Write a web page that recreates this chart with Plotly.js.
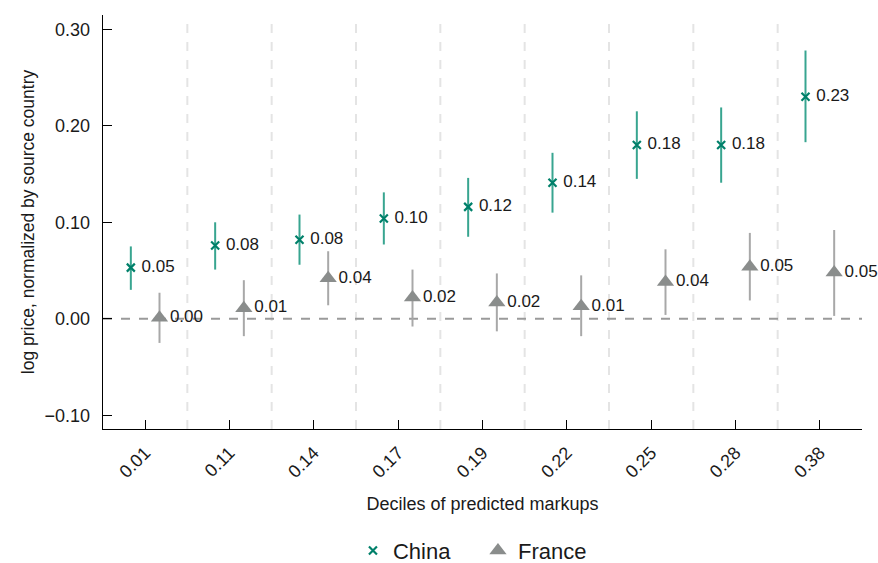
<!DOCTYPE html>
<html>
<head>
<meta charset="utf-8">
<script src="https://cdn.plot.ly/plotly-3.0.1.min.js"></script>
<style>html,body{margin:0;padding:0;background:#fff;}#chart{width:878px;height:563px;}</style>
</head>
<body>
<div id="chart"></div>
<script>
// Deciles of predicted markups (x categories)
const deciles = ["0.01", "0.11", "0.14", "0.17", "0.19", "0.22", "0.25", "0.28", "0.38"];

// China: point estimates and 95% CI bounds
const chinaVal = [0.053, 0.076, 0.082, 0.104, 0.116, 0.141, 0.180, 0.180, 0.230];
const chinaHi  = [0.075, 0.100, 0.108, 0.131, 0.146, 0.172, 0.215, 0.219, 0.278];
const chinaLo  = [0.030, 0.051, 0.056, 0.077, 0.085, 0.110, 0.145, 0.141, 0.183];

// France: point estimates and 95% CI bounds
const franceVal = [0.001, 0.011, 0.042, 0.022, 0.017, 0.013, 0.038, 0.054, 0.048];
const franceHi  = [0.027, 0.040, 0.070, 0.051, 0.047, 0.045, 0.072, 0.089, 0.092];
const franceLo  = [-0.025, -0.018, 0.014, -0.008, -0.013, -0.018, 0.004, 0.019, 0.003];

const yTicks = [-0.1, 0.0, 0.1, 0.2, 0.3];

const FONT = "Liberation Sans, Arial, Helvetica, sans-serif";
const OFF = 0.17;
const idx = deciles.map((d, i) => i);

const china = {
  type: "scatter", mode: "markers+text", name: "China",
  x: idx.map(i => i - OFF), y: chinaVal,
  text: chinaVal.map(v => "\u00a0" + v.toFixed(2)), textposition: "middle right",
  textfont: {family: FONT, size: 17, color: "#1a1a1a"},
  marker: {symbol: "x-thin", size: 8, color: "#00806a", line: {width: 2.2, color: "#00806a"}},
  error_y: {type: "data", symmetric: false,
    array: chinaHi.map((h, i) => h - chinaVal[i]),
    arrayminus: chinaLo.map((l, i) => chinaVal[i] - l),
    color: "#38a590", thickness: 2, width: 0},
  cliponaxis: false
};
const france = {
  type: "scatter", mode: "markers+text", name: "France",
  x: idx.map(i => i + OFF), y: franceVal,
  text: franceVal.map(v => v.toFixed(2)), textposition: "middle right",
  textfont: {family: FONT, size: 17, color: "#1a1a1a"},
  marker: {symbol: "triangle-up", size: 15, color: "#8a8d8c"},
  error_y: {type: "data", symmetric: false,
    array: franceHi.map((h, i) => h - franceVal[i]),
    arrayminus: franceLo.map((l, i) => franceVal[i] - l),
    color: "#a8a8a8", thickness: 2, width: 0},
  cliponaxis: false
};

const shapes = [];
for (let i = 0; i < deciles.length - 1; i++) {
  shapes.push({type: "line", xref: "x", yref: "paper", x0: i + 0.5, x1: i + 0.5, y0: 0, y1: 1,
    line: {color: "#e4e4e4", width: 2, dash: "dash"}, layer: "below"});
}
shapes.push({type: "line", xref: "paper", yref: "y", x0: 0, x1: 1, y0: 0, y1: 0,
  line: {color: "#9a9a9a", width: 2, dash: "dash"}, layer: "below"});

const layout = {
  width: 878, height: 563,
  margin: {l: 103, r: 16, t: 15, b: 134},
  paper_bgcolor: "#fff", plot_bgcolor: "#fff",
  font: {family: FONT, size: 18, color: "#1a1a1a"},
  showlegend: true,
  legend: {orientation: "h", xref: "container", yref: "container",
    x: 0.402, xanchor: "left", y: 0.022, yanchor: "middle",
    entrywidth: 80, entrywidthmode: "pixels",
    font: {family: FONT, size: 22, color: "#1a1a1a"}, itemwidth: 30},
  xaxis: {range: [-0.5, 8.5], tickvals: idx, ticktext: deciles, tickangle: -45,
    showline: true, linecolor: "#000", linewidth: 1.3, ticks: "inside", ticklen: 9, tickcolor: "#000",
    showgrid: false, zeroline: false, automargin: false, ticklabelstandoff: 5,
    tickfont: {family: FONT, size: 18},
    title: {text: "Deciles of predicted markups", font: {family: FONT, size: 18}, standoff: 16}},
  yaxis: {range: [-0.1142, 0.3148], tickvals: yTicks, tickformat: ".2f",
    showline: true, linecolor: "#000", linewidth: 1.3, ticks: "inside", ticklen: 9, tickcolor: "#000",
    showgrid: false, zeroline: false, automargin: false, ticklabelstandoff: 8,
    tickfont: {family: FONT, size: 18},
    title: {text: "log price, normalized by source country", font: {family: FONT, size: 17.5}, standoff: 5}},
  shapes: shapes
};

Plotly.newPlot("chart", [china, france], layout, {displayModeBar: false, staticPlot: true});
</script>
</body>
</html>
